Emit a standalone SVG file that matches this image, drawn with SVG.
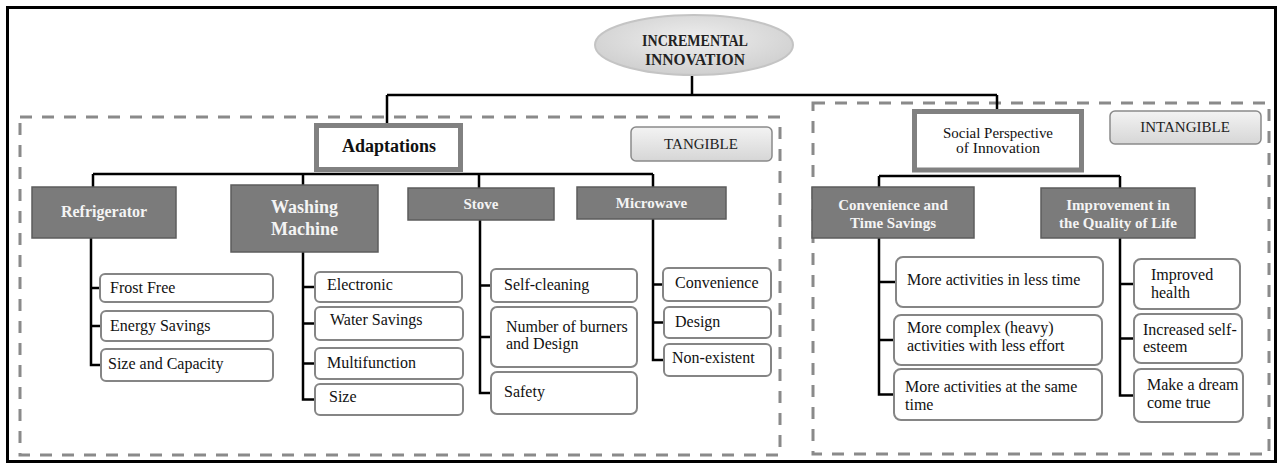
<svg xmlns="http://www.w3.org/2000/svg" width="1281" height="464" viewBox="0 0 1281 464">
<defs>
<linearGradient id="gTag" x1="0" y1="0" x2="0" y2="1"><stop offset="0" stop-color="#f3f3f3"/><stop offset="1" stop-color="#d6d6d6"/></linearGradient>
<radialGradient id="gEll" cx="0.5" cy="0.4" r="0.6"><stop offset="0" stop-color="#eeeeee"/><stop offset="1" stop-color="#cfcfcf"/></radialGradient>
<style>
.conn{stroke:#000;stroke-width:2.5;fill:none}
.dash{stroke:#8a8a8a;stroke-width:3;stroke-dasharray:12 10;fill:none}
.dark{fill:#7b7b7b;stroke:#5c5c5c;stroke-width:1.5}
.dt{font-family:"Liberation Serif",serif;font-weight:bold;font-size:15px;fill:#f4f4f4;text-anchor:middle}
.leaf{fill:#fff;stroke:#858585;stroke-width:2}
.lt{font-family:"Liberation Serif",serif;font-size:16px;fill:#111}
.hdr{fill:#fff;stroke:#818181;stroke-width:5}
.tag{fill:url(#gTag);stroke:#8a8a8a;stroke-width:1.5}
.tt{font-family:"Liberation Serif",serif;font-size:15px;fill:#222;text-anchor:middle}
</style>
</defs>
<rect width="1281" height="464" fill="#fff"/>
<rect x="7.5" y="7.5" width="1268" height="454" fill="none" stroke="#000" stroke-width="3"/>
<g id="groups">
<rect class="dash" x="20" y="117" width="760" height="338"/>
<rect class="dash" x="813" y="103" width="456" height="351"/>
</g>
<g id="connectors">
<path class="conn" d="M692 75V95M387 95H997M387 95V123M997 95V109"/>
<path class="conn" d="M93 174H653M93 174V187M303 174V185M479 174V188M653 174V187"/>
<path class="conn" d="M879 176H1120M879 176V187M1120 176V188"/>
<path class="conn" d="M91 238V365H101M91 288H100M91 326H101"/>
<path class="conn" d="M303 252V399.5H315M303 287H315M303 323.5H315M303 363.5H315"/>
<path class="conn" d="M480 220V393H491M480 285.5H491M480 337H491"/>
<path class="conn" d="M653 219V360H664M653 284.5H663M653 322.5H664"/>
<path class="conn" d="M879 238V394.5H894M879 282H896M879 340H894"/>
<path class="conn" d="M1120 238V395.5H1134M1120 284H1134M1120 338.5H1134"/>
</g>
<g id="root">
<ellipse cx="694" cy="45" rx="99" ry="30" fill="url(#gEll)" stroke="#c4c4c4" stroke-width="2"/>
<text x="695" y="46" font-family="Liberation Serif,serif" font-weight="bold" font-size="17" fill="#222" text-anchor="middle" textLength="106" lengthAdjust="spacingAndGlyphs">INCREMENTAL</text>
<text x="695" y="65" font-family="Liberation Serif,serif" font-weight="bold" font-size="17" fill="#222" text-anchor="middle" textLength="100" lengthAdjust="spacingAndGlyphs">INNOVATION</text>
</g>
<g id="adaptations">
<rect class="hdr" x="316.5" y="125.5" width="144" height="44"/>
<text x="389" y="152" font-family="Liberation Serif,serif" font-weight="bold" font-size="18" fill="#111" text-anchor="middle">Adaptations</text>
</g>
<g id="tangible">
<rect class="tag" x="631" y="127" width="141" height="34" rx="5"/>
<text class="tt" x="701" y="149">TANGIBLE</text>
</g>
<g id="social">
<rect class="hdr" x="914.5" y="111.5" width="167" height="58.5"/>
<text x="998" y="138" font-family="Liberation Serif,serif" font-size="15" fill="#111" text-anchor="middle" textLength="110" lengthAdjust="spacingAndGlyphs">Social Perspective</text>
<text x="998" y="153" font-family="Liberation Serif,serif" font-size="15" fill="#111" text-anchor="middle" textLength="84" lengthAdjust="spacingAndGlyphs">of Innovation</text>
</g>
<g id="intangible">
<rect class="tag" x="1110" y="111" width="151" height="33" rx="5"/>
<text class="tt" x="1185" y="132">INTANGIBLE</text>
</g>
<g id="refrigerator"><rect class="dark" x="32" y="187" width="144" height="51"/><text class="dt" x="104" y="217" style="font-size:16px">Refrigerator</text></g>
<g id="washing"><rect class="dark" x="231" y="185" width="147" height="67"/><text class="dt" x="304.5" y="213" style="font-size:18px">Washing</text><text class="dt" x="304.5" y="235" style="font-size:18px">Machine</text></g>
<g id="stove"><rect class="dark" x="408" y="188" width="146" height="32"/><text class="dt" x="481" y="209">Stove</text></g>
<g id="microwave"><rect class="dark" x="577" y="187" width="149" height="32"/><text class="dt" x="651.5" y="208">Microwave</text></g>
<g id="convenience"><rect class="dark" x="812" y="187" width="162" height="51"/><text class="dt" x="893" y="210">Convenience and</text><text class="dt" x="893" y="228">Time Savings</text></g>
<g id="improvement"><rect class="dark" x="1041" y="188" width="154" height="50"/><text class="dt" x="1118" y="210">Improvement in</text><text class="dt" x="1118" y="228">the Quality of Life</text></g>
<g id="frost"><rect class="leaf" x="100" y="274" width="173" height="28" rx="5"/><text class="lt" x="110" y="293">Frost Free</text></g>
<g id="energy"><rect class="leaf" x="101" y="311" width="172" height="30" rx="5"/><text class="lt" x="110" y="331">Energy Savings</text></g>
<g id="sizecap"><rect class="leaf" x="101" y="349" width="172" height="32" rx="5"/><text class="lt" x="108" y="369">Size and Capacity</text></g>
<g id="electronic"><rect class="leaf" x="315" y="272" width="147" height="30" rx="5"/><text class="lt" x="327" y="290">Electronic</text></g>
<g id="water"><rect class="leaf" x="315" y="307" width="148" height="33" rx="5"/><text class="lt" x="330" y="325">Water Savings</text></g>
<g id="multi"><rect class="leaf" x="315" y="348" width="148" height="31" rx="5"/><text class="lt" x="327" y="368">Multifunction</text></g>
<g id="size"><rect class="leaf" x="315" y="384" width="148" height="31" rx="5"/><text class="lt" x="329" y="402">Size</text></g>
<g id="selfclean"><rect class="leaf" x="491" y="269" width="146" height="33" rx="5"/><text class="lt" x="504" y="290">Self-cleaning</text></g>
<g id="burners"><rect class="leaf" x="491" y="307" width="146" height="60" rx="6"/><text class="lt" x="506" y="332">Number of burners</text><text class="lt" x="506" y="349">and Design</text></g>
<g id="safety"><rect class="leaf" x="491" y="372" width="146" height="42" rx="6"/><text class="lt" x="504" y="397">Safety</text></g>
<g id="convenience-leaf"><rect class="leaf" x="663" y="268" width="108" height="33" rx="5"/><text class="lt" x="675" y="288">Convenience</text></g>
<g id="design"><rect class="leaf" x="664" y="307" width="107" height="31" rx="5"/><text class="lt" x="675" y="327">Design</text></g>
<g id="nonexistent"><rect class="leaf" x="664" y="344" width="107" height="32" rx="5"/><text class="lt" x="672" y="363">Non-existent</text></g>
<g id="lesstime"><rect class="leaf" x="896" y="257" width="207" height="50" rx="7"/><text class="lt" x="907" y="285">More activities in less time</text></g>
<g id="complex"><rect class="leaf" x="894" y="315" width="208" height="50" rx="7"/><text class="lt" x="907" y="333">More complex (heavy)</text><text class="lt" x="907" y="351">activities with less effort</text></g>
<g id="sametime"><rect class="leaf" x="894" y="369" width="208" height="51" rx="7"/><text class="lt" x="905" y="392">More activities at the same</text><text class="lt" x="905" y="410">time</text></g>
<g id="health"><rect class="leaf" x="1134" y="259" width="106" height="50" rx="7"/><text class="lt" x="1151" y="280">Improved</text><text class="lt" x="1151" y="298">health</text></g>
<g id="esteem"><rect class="leaf" x="1134" y="314" width="108" height="49" rx="7"/><text class="lt" x="1143" y="335">Increased self-</text><text class="lt" x="1143" y="352">esteem</text></g>
<g id="dream"><rect class="leaf" x="1134" y="369" width="109" height="53" rx="7"/><text class="lt" x="1147" y="390">Make a dream</text><text class="lt" x="1147" y="408">come true</text></g>
</svg>
